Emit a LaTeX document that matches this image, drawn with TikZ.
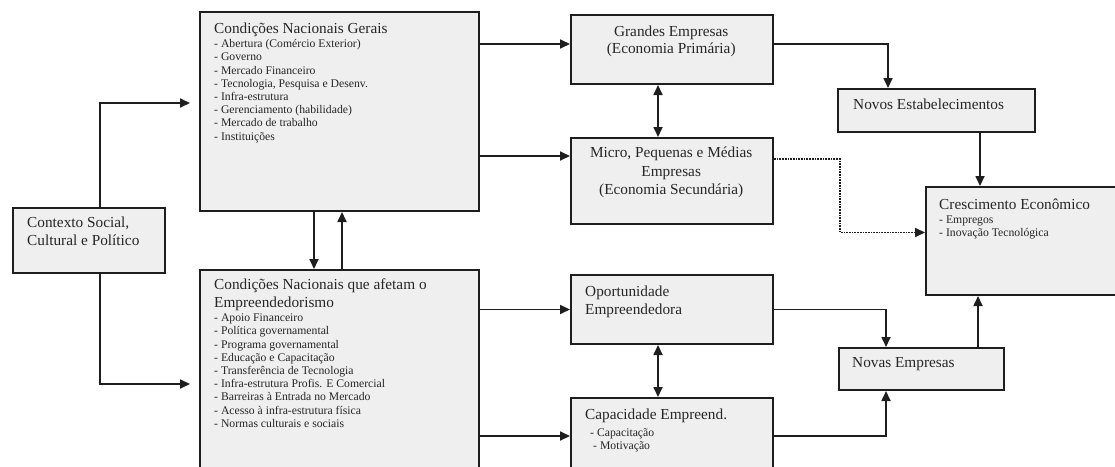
\documentclass[tikz,border=0pt]{standalone}
\usepackage{fontspec}
\setmainfont{Liberation Serif}
\usepackage{xcolor}
\usepackage{tikz}
\usetikzlibrary{arrows.meta, positioning}
\definecolor{boxfill}{RGB}{239, 239, 239}
\definecolor{boxline}{RGB}{30, 30, 30}
\newcommand{\titlesize}{\fontsize{15.3}{17.7}\selectfont}
\newcommand{\listsize}{\fontsize{11.7}{13.2}\selectfont}
\newcommand{\smallsize}{\fontsize{11.7}{12.6}\selectfont}

\begin{document}
\begin{tikzpicture}[
        x=1pt, y=-1pt,
        blk/.style={draw=boxline, line width=2pt, fill=boxfill, anchor=north west, inner sep=0pt},
        txt/.style={anchor=base west, inner sep=0pt, text=black!85},
        arr/.style={->, line width=1.7pt, boxline},
        >={Triangle[length=10pt, width=9pt]}
    ]
    \useasboundingbox (0,0) rectangle (1115,466);
    \clip (0,0) rectangle (1115,466);

    % Boxes
    \node[blk, minimum width=152, minimum height=65] (ctx) at (12,207) {};
    \node[blk, minimum width=279, minimum height=199] (gerais) at (199,11) {};
    \node[blk, minimum width=279, minimum height=222] (afetam) at (199,269) {};
    \node[blk, minimum width=202, minimum height=69] (grandes) at (570,14) {};
    \node[blk, minimum width=202, minimum height=86] (micro) at (570,137) {};
    \node[blk, minimum width=202, minimum height=69] (oport) at (570,274) {};
    \node[blk, minimum width=202, minimum height=76] (capac) at (570,397) {};
    \node[blk, minimum width=197, minimum height=43] (novosest) at (837,88) {};
    \node[blk, minimum width=200, minimum height=108] (cresc) at (925,186) {};
    \node[blk, minimum width=165, minimum height=42] (novas) at (838,347) {};

    % Texts
    \node[txt] (ctxtxt) at ([shift={(15,20.5)}]ctx.north west)
        {\parbox[t]{140pt}{\titlesize Contexto Social,\\ Cultural e Político}};
    \node[txt] (geraistxt) at ([shift={(15,22)}]gerais.north west)
        {\parbox[t]{260pt}{\titlesize Condições Nacionais Gerais\par\listsize\vspace{1.5pt}%
        - Abertura (Comércio Exterior)\\
        - Governo\\
        - Mercado Financeiro\\
        - Tecnologia, Pesquisa e Desenv.\\
        - Infra-estrutura\\
        - Gerenciamento (habilidade)\\
        - Mercado de trabalho\\
        - Instituições}};
    \node[txt] (afetamtxt) at ([shift={(15,20.5)}]afetam.north west)
        {\parbox[t]{260pt}{\titlesize Condições Nacionais que afetam o\\ Empreendedorismo\par\listsize\vspace{1.3pt}%
        - Apoio Financeiro\\
        - Política governamental\\
        - Programa governamental\\
        - Educação e Capacitação\\
        - Transferência de Tecnologia\\
        - Infra-estrutura Profis. E Comercial\\
        - Barreiras à Entrada no Mercado\\
        - Acesso à infra-estrutura física\\
        - Normas culturais e sociais}};
    \node[txt] (grandestxt) at ([shift={(0,22)}]grandes.north west)
        {\parbox[t]{202pt}{\centering\titlesize Grandes Empresas\\ (Economia Primária)}};
    \node[txt] (microtxt) at ([shift={(0,20.5)}]micro.north west)
        {\parbox[t]{202pt}{\centering\titlesize\baselineskip=18.5pt Micro, Pequenas e Médias\\ Empresas\\ (Economia Secundária)}};
    \node[txt] (oporttxt) at ([shift={(15,22.5)}]oport.north west)
        {\parbox[t]{180pt}{\titlesize Oportunidade\\ Empreendedora}};
    \node[txt] (capactxt) at ([shift={(15,22.5)}]capac.north west)
        {\parbox[t]{180pt}{\titlesize Capacidade Empreend.\par\smallsize\vspace{4.5pt}%
        \hspace*{5pt}- Capacitação\\
        \hspace*{8pt}- Motivação}};
    \node[txt] (novosesttxt) at ([shift={(16,21.5)}]novosest.north west)
        {\titlesize Novos Estabelecimentos};
    \node[txt] (novastxt) at ([shift={(14,20.5)}]novas.north west)
        {\titlesize Novas Empresas};
    \node[txt] (cresctxt) at ([shift={(14,23.5)}]cresc.north west)
        {\parbox[t]{180pt}{\titlesize Crescimento Econômico\par\smallsize\vspace{1.4pt}%
        - Empregos\\
        - Inovação Tecnológica}};

    % Arrows from the context
    \draw[arr, shorten >=9pt] ([xshift=11]ctx.north) |- ([yshift=8.5]gerais.west);
    \draw[arr, shorten >=9pt] ([xshift=11]ctx.south) |- ([yshift=-3]afetam.west);

    % Between the two condition boxes
    \draw[arr] ([xshift=-25.5]gerais.south) -- ([xshift=-25.5]afetam.north);
    \draw[arr] ([xshift=2.5]afetam.north) -- ([xshift=2.5]gerais.south);

    % Conditions to firms
    \draw[arr] ([yshift=5.5]grandes.west -| gerais.east) -- ([yshift=5.5]grandes.west);
    \draw[arr] ([yshift=25]micro.west -| gerais.east) -- ([yshift=25]micro.west);
    \draw[arr] (oport.west -| afetam.east) -- (oport.west);
    \draw[arr] (capac.west -| afetam.east) -- (capac.west);

    % Double arrows
    \draw[arr, <->] ([xshift=-14]grandes.south) -- ([xshift=-14]micro.north);
    \draw[arr, <->] ([xshift=-14]oport.south) -- ([xshift=-14]capac.north);

    % Towards growth
    \draw[arr] ([yshift=5.5]grandes.east) -| ([xshift=-48.5]novosest.north);
    \draw[arr] ([xshift=43.5]novosest.south) -- ([xshift=43.5]novosest.south |- cresc.north);
    \draw[arr, densely dotted] ([yshift=22]micro.east) -- ++(66,0) |- ([yshift=8.5]cresc.west);
    \draw[arr] (oport.east) -| ([xshift=-35.5]novas.north);
    \draw[arr] (capac.east) -| ([xshift=-35.5]novas.south);
    \draw[arr] ([xshift=56.5]novas.north) -- ([xshift=56.5]novas.north |- cresc.south);
\end{tikzpicture}
\end{document}
